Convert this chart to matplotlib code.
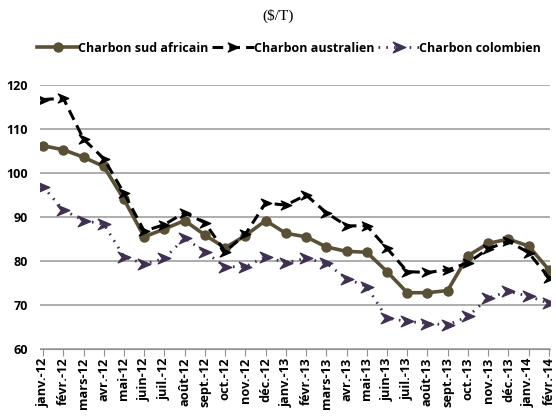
import matplotlib.pyplot as plt
from matplotlib.path import Path
from matplotlib.legend_handler import HandlerLine2D

# mois (axe des x)
mois = ["janv.-12", "févr.-12", "mars-12", "avr.-12", "mai-12", "juin-12",
        "juil.-12", "août-12", "sept.-12", "oct.-12", "nov.-12", "déc.-12",
        "janv.-13", "févr.-13", "mars-13", "avr.-13", "mai-13", "juin-13",
        "juil.-13", "août-13", "sept.-13", "oct.-13", "nov.-13", "déc.-13",
        "janv.-14", "févr.-14"]

# prix en $/T
sud_africain = [106.2, 105.3, 103.6, 101.5, 94.0, 85.5, 87.3, 89.2, 85.9, 83.0,
                85.8, 89.2, 86.3, 85.5, 83.2, 82.2, 82.0, 77.6, 72.8, 72.8,
                73.3, 81.2, 84.0, 85.0, 83.4, 78.0]
australien = [116.7, 117.0, 107.7, 103.3, 95.4, 86.8, 88.3, 91.0, 88.7, 82.1,
              86.1, 93.2, 92.7, 95.0, 91.0, 88.0, 88.0, 82.9, 77.6, 77.4,
              78.0, 79.6, 82.8, 84.5, 81.9, 76.2]
colombien = [96.9, 91.6, 89.2, 88.4, 81.0, 79.3, 80.6, 85.2, 82.1, 78.7,
             78.7, 81.0, 79.6, 80.6, 79.5, 76.0, 74.2, 67.0, 66.3, 65.8,
             65.5, 67.4, 71.6, 73.1, 72.0, 70.4]

x = list(range(len(mois)))

# marqueur en forme de fleche
fleche = Path([(1, 0), (-1, 0.85), (-0.35, 0), (-1, -0.85), (1, 0)],
              [Path.MOVETO, Path.LINETO, Path.LINETO, Path.LINETO, Path.CLOSEPOLY])


# legende facon excel : marqueur au bout du trait
class MarqueurFin(HandlerLine2D):
    def get_xdata(self, legend, xdescent, ydescent, width, height, fontsize):
        xdata = [-xdescent, -xdescent + width]
        return xdata, [-xdescent + width - 2]


fig = plt.figure(figsize=(5.56, 4.19), dpi=100)
ax = fig.add_axes([0.072, 0.167, 0.917, 0.63])

l1, = ax.plot(x, sud_africain, color='#5a5035', lw=2.6, marker='o', ms=6.5,
              label="Charbon sud africain", zorder=3)
l2, = ax.plot(x, australien, color='black', lw=2.2, ls=(0, (3.5, 2)),
              marker=fleche, ms=7.5, label="Charbon australien", zorder=4)
l3, = ax.plot(x, colombien, color='#403152', lw=2, ls=(0, (0.6, 2.2)),
              marker=fleche, ms=9, label="Charbon colombien", zorder=2)

ax.set_xlim(-0.15, 25.05)
ax.set_ylim(60, 120)
ax.set_yticks(range(60, 121, 10))
ax.yaxis.grid(True, color='#a0a0a0', lw=1.2)
ax.set_axisbelow(True)

ax.set_xticks(x)
ax.set_xticklabels(mois, rotation=90, fontsize=9.2, fontweight='bold',
                   family='Open Sans')
for lab in ax.get_yticklabels():
    lab.set_fontsize(9)
    lab.set_fontweight('bold')
    lab.set_family('Open Sans')

ax.tick_params(axis='y', length=0, pad=9)
ax.tick_params(axis='x', direction='out', length=5, color='#909090', pad=1)
for s in ['top', 'right', 'left']:
    ax.spines[s].set_visible(False)
ax.spines['bottom'].set_color('#909090')

fig.text(0.5, 0.962, "($/T)", ha='center', va='center', fontsize=11,
         family='Liberation Serif')

h = MarqueurFin(numpoints=1)
fig.legend(handles=[l1, l2, l3], loc='center', bbox_to_anchor=(0.52, 0.885),
           ncol=3, frameon=False, handlelength=3.3, handletextpad=0.0,
           columnspacing=0.3, handler_map={l1: h, l2: h, l3: h},
           prop={'family': 'Open Sans', 'weight': 'bold', 'size': 9})

fig.savefig("out.png", dpi=100)
